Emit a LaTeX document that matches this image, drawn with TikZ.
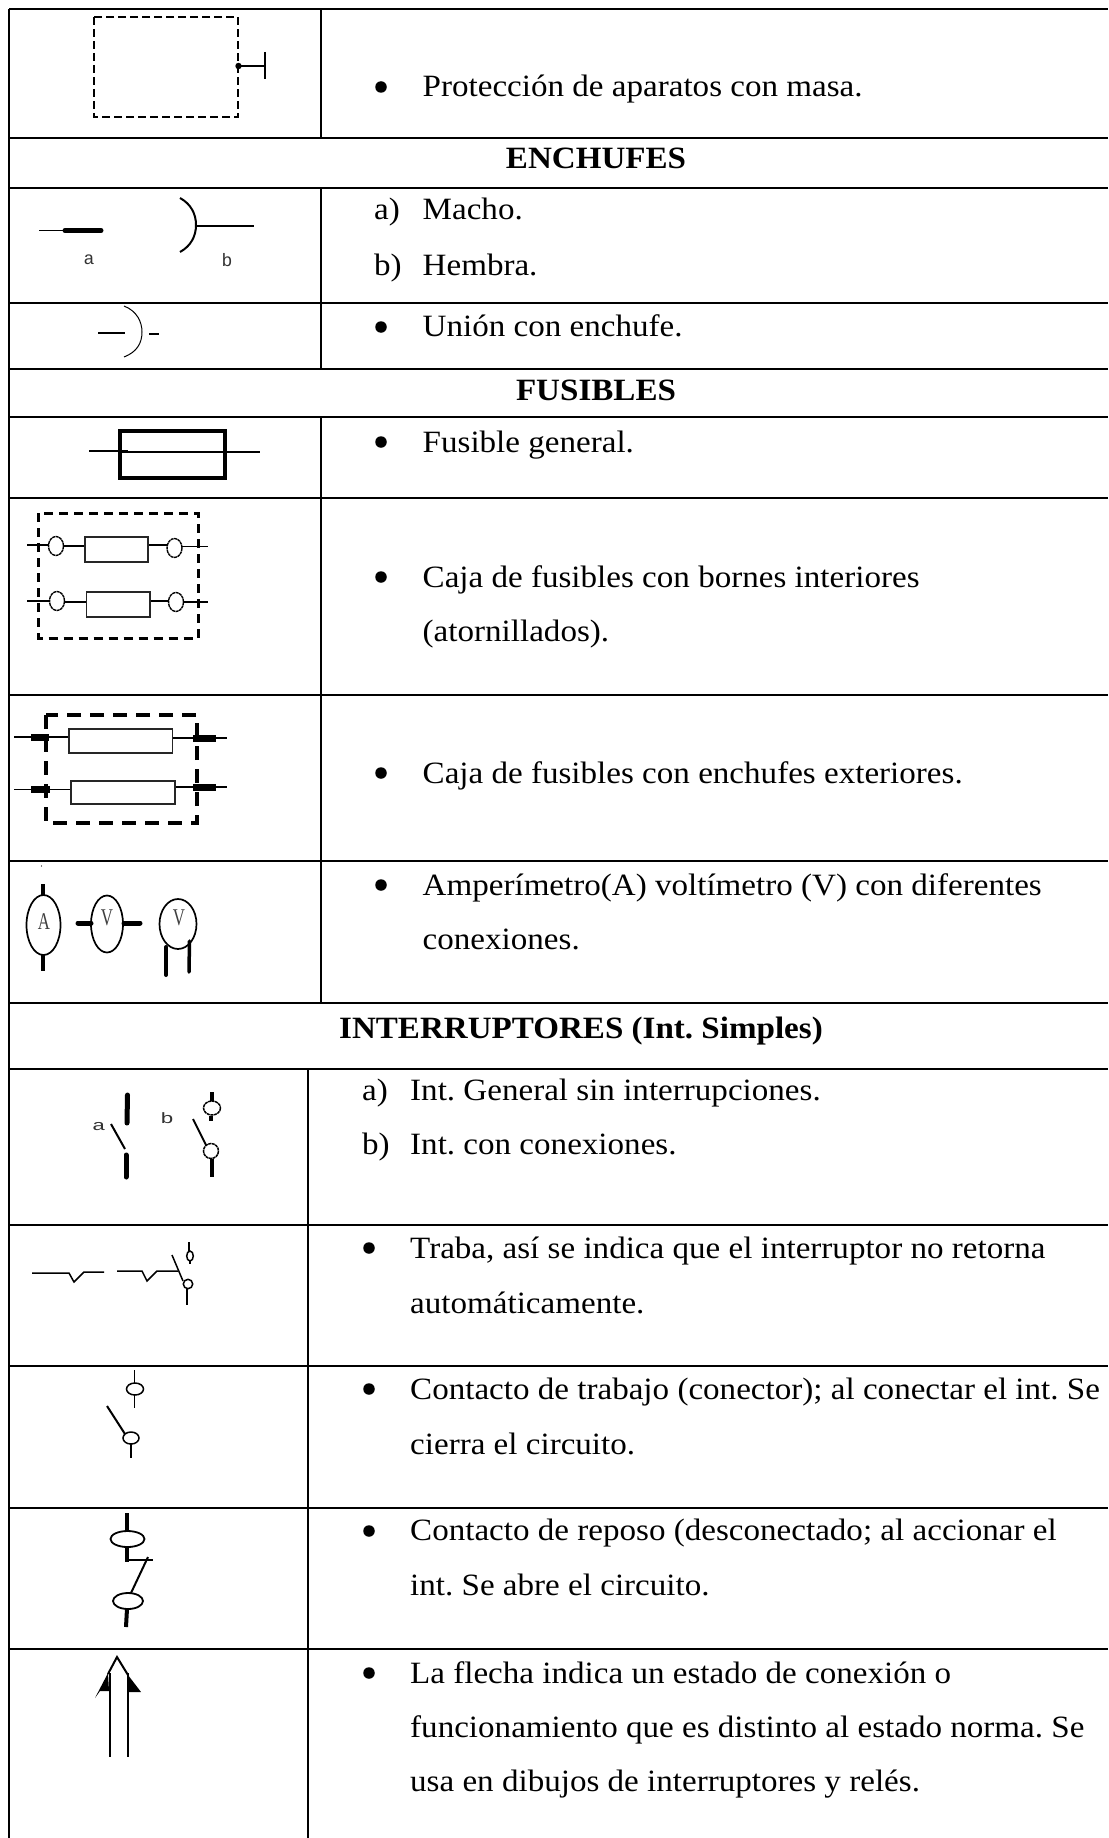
\documentclass[tikz,border=0pt]{standalone}
\usepackage{fontspec}
\setmainfont{Liberation Serif}[FakeStretch=1.067]
\newfontfamily\labfont{Liberation Mono}
\newfontfamily\widelabfont{Liberation Mono}[FakeStretch=1.5]
\newfontfamily\meterfont{Liberation Serif}[FakeStretch=0.7]
\begin{document}
\begin{tikzpicture}[x=1pt,y=-1pt,line cap=butt,
  grid/.style={line width=1.6pt,black},
  wire/.style={line width=1.5pt,black},
  thin wire/.style={line width=1.1pt,black},
  lead/.style={line width=4pt,black},
  fat/.style={line width=5pt,black,line cap=round},
  txt/.style={anchor=base west,inner sep=0pt,font=\frenchspacing\fontsize{31}{31}\selectfont},
  head/.style={anchor=base,inner sep=0pt,font=\frenchspacing\fontsize{31}{31}\selectfont\bfseries},
  bul/.style={circle,fill=black,inner sep=0pt,minimum size=11.5pt},
  lab/.style={inner sep=0pt,font=\labfont\fontsize{18}{18}\selectfont,black!80},
  widelab/.style={inner sep=0pt,font=\widelabfont\fontsize{15}{15}\selectfont,black!80},
  meter/.style={inner sep=0pt,font=\meterfont\fontsize{24}{24}\selectfont,black!75}]
\useasboundingbox (0,0) rectangle (1108,1838);
% table
\draw[grid] (9,9) -- (9,1838);
\foreach \yy in {9,138,188,303,369,417,498,695,861,1003,1069,1225,1366,1508,1649}
  \draw[grid] (9,\yy) -- (1108,\yy);
\draw[grid] (321,9) -- (321,138) (321,188) -- (321,369) (321,417) -- (321,1003);
\draw[grid] (308,1069) -- (308,1838);
% headings
\node[head] (h1) at (596,169) {ENCHUFES};
\node[head] (h2) at (596,400) {FUSIBLES};
\node[head] (h3) at (581,1038) {INTERRUPTORES (Int. Simples)};
% upper texts
\node[bul] (b1) at (381,87) {};
\node[txt] (t1) at (422.5,97) {Protección de aparatos con masa.};
\node[txt] (l1) at (374,219) {a)};
\node[txt] (t2) at (422.5,219) {Macho.};
\node[txt] (l2) at (374,275) {b)};
\node[txt] (t3) at (422.5,275) {Hembra.};
\node[bul] (b2) at (381,327) {};
\node[txt] (t4) at (422.5,336) {Unión con enchufe.};
\node[bul] (b3) at (381,442) {};
\node[txt] (t5) at (422.5,452) {Fusible general.};
\node[bul] (b4) at (381,577) {};
\node[txt] (t6) at (422.5,587) {Caja de fusibles con bornes interiores};
\node[txt] (t7) at (422.5,641) {(atornillados).};
\node[bul] (b5) at (381,773) {};
\node[txt] (t8) at (422.5,783) {Caja de fusibles con enchufes exteriores.};
\node[bul] (b6) at (381,885) {};
\node[txt] (t9) at (422.5,895) {Amperímetro(A) voltímetro (V) con diferentes};
\node[txt] (t10) at (422.5,949) {conexiones.};
% lower texts
\node[txt] (l3) at (362,1100) {a)};
\node[txt] (t11) at (410,1100) {Int. General sin interrupciones.};
\node[txt] (l4) at (362,1154) {b)};
\node[txt] (t12) at (410,1154) {Int. con conexiones.};
\node[bul] (b7) at (369,1248) {};
\node[txt] (t13) at (410,1258) {Traba, así se indica que el interruptor no retorna};
\node[txt] (t14) at (410,1313) {automáticamente.};
\node[bul] (b8) at (369,1389) {};
\node[txt] (t15) at (410,1399) {Contacto de trabajo (conector); al conectar el int. Se};
\node[txt] (t16) at (410,1454) {cierra el circuito.};
\node[bul] (b9) at (369,1531) {};
\node[txt] (t17) at (410,1540) {Contacto de reposo (desconectado; al accionar el};
\node[txt] (t18) at (410,1595) {int. Se abre el circuito.};
\node[bul] (b10) at (369,1673) {};
\node[txt] (t19) at (410,1683) {La flecha indica un estado de conexión o};
\node[txt] (t20) at (410,1737) {funcionamiento que es distinto al estado norma. Se};
\node[txt] (t21) at (410,1791) {usa en dibujos de interruptores y relés.};
% protection
\draw[line width=1.5pt,dash pattern=on 8pt off 4pt] (94,17) rectangle (238,117);
\fill (238.5,66) circle (3.2);
\draw[wire] (238,66) -- (265,66) (265,52) -- (265,79);
% plugs
\draw[wire] (39,230.5) -- (64,230.5);
\draw[fat] (65,230.5) -- (101,230.5);
\node[lab] (la) at (89,260) {a};
\node[lab] (lb) at (227,260) {b};
\draw[line width=2pt] (180,198) .. controls (191,204) and (196,214) .. (196,225) .. controls (196,236) and (191,246) .. (180,252);
\draw[wire] (196,226) -- (254,226);
\draw[thin wire] (98,333) -- (125,333) (149,334) -- (159,334);
\draw[line width=1pt] (124,306) .. controls (137,311) and (142,322) .. (142,332) .. controls (142,343) and (137,352) .. (124,357);
% fuse
\draw[line width=3.6pt] (120,431) rectangle (225,478);
\draw[line width=2pt] (89,451) -- (128,451) (120,452) -- (260,452);
% fuse box with terminals
\draw[line width=3pt,dash pattern=on 9pt off 6pt] (38.5,513) rectangle (198,638);
\draw[thin wire,line width=1.3pt] (27,545) -- (48.5,545) (63.5,546) -- (85,546) (148,545) -- (167,545) (182,546.5) -- (208,546.5);
\draw[line width=1.4pt,dash pattern=on 3pt off .6pt] (56,546) ellipse [x radius=7.5,y radius=9.5] (174.5,548) ellipse [x radius=7.5,y radius=9.5];
\draw[line width=1.5pt,black!85] (85,537) rectangle (148,562);
\draw[thin wire,line width=1.3pt] (27,601) -- (49.5,601) (65,602) -- (86.5,602) (150,601) -- (168.5,601) (183.5,602) -- (208,602);
\draw[line width=1.4pt,dash pattern=on 3pt off .6pt] (57,601) ellipse [x radius=7.5,y radius=9.5] (176,602) ellipse [x radius=7.5,y radius=9.5];
\draw[line width=1.5pt,black!85] (86.5,592) rectangle (150,617);
% fuse box with plugs
\draw[line width=4pt,dash pattern=on 14pt off 9pt] (46,715) rectangle (197,823);
\draw[wire,line width=1.8pt] (14,737) -- (69,737) (172.5,738) -- (227,738);
\draw[line width=7pt] (31,737) -- (49,737) (193,738) -- (216,738);
\draw[line width=1.8pt,black!85] (69,729) rectangle (172.5,753);
\draw[wire,line width=1.8pt] (14,789.5) -- (71,789.5) (175,787) -- (227,787);
\draw[line width=7pt] (31,789.5) -- (50,789.5) (193,787) -- (216,787);
\draw[line width=1.8pt,black!85] (71,781) rectangle (175,804);
% meters
\fill (41.5,866) circle (.6);
\draw[line width=1.7pt] (43.5,925) ellipse [x radius=17,y radius=30];
\draw[lead] (43,884) -- (43,895) (43,955) -- (43,971);
\node[meter] (ma) at (44,922) {A};
\draw[line width=1.7pt] (107,924) ellipse [x radius=16,y radius=28.5];
\draw[fat] (78,923) -- (91,923) (124,923) -- (140,923);
\node[meter] (mv) at (107,918) {V};
\draw[line width=1.7pt] (178,924) ellipse [x radius=18.5,y radius=25];
\node[meter] (mw) at (179,918) {V};
\draw[line width=4pt,line cap=round] (166,947) -- (166,975);
\draw[line width=3.5pt,line cap=round] (189.5,941) -- (189,972);
% switches a, b
\node[widelab] (sa) at (99,1127) {a};
\node[widelab] (sb) at (167,1118) {b};
\draw[fat] (127.5,1095) -- (127,1123);
\draw[line width=2pt] (111,1124) -- (125,1149);
\draw[fat] (126,1155) -- (126,1177);
\draw[lead] (212,1092) -- (212,1101) (211,1116) -- (211,1121);
\draw[line width=1.5pt,dash pattern=on 3pt off .6pt] (212,1108) ellipse [x radius=8.5,y radius=7];
\draw[line width=2pt] (193,1119) -- (206,1145);
\draw[line width=1.5pt,dash pattern=on 3pt off .6pt] (211,1151) ellipse [x radius=7.5,y radius=7.5];
\draw[lead,line width=3.5pt] (212,1159) -- (212,1177);
% latch
\draw[wire] (32,1273) -- (69,1273) -- (74,1282) -- (84,1272) -- (104,1272);
\draw[wire] (117,1271) -- (142,1271) -- (147,1281) -- (157,1271) -- (178,1271);
\draw[wire] (172,1255) -- (183,1281);
\draw[wire] (188,1284) circle (4.7);
\draw[wire] (187,1289) -- (187,1305);
\draw[wire] (189,1242) -- (189,1251) (190,1261) -- (190,1264);
\draw[wire] (190,1256) ellipse [x radius=3.3,y radius=5];
% working contact
\draw[wire] (134.5,1370) -- (134.5,1383) (134.5,1395) -- (134.5,1408);
\draw[wire] (135,1389) ellipse [x radius=8.5,y radius=6];
\draw[line width=2pt] (107,1406) -- (125,1434);
\draw[wire] (131,1438) ellipse [x radius=8,y radius=6];
\draw[line width=2pt] (131,1444) -- (131,1458);
% rest contact
\draw[lead] (127,1513) -- (127,1531);
\draw[line width=1.8pt] (127.5,1539) ellipse [x radius=17,y radius=8];
\draw[lead] (127,1547) -- (127,1562);
\draw[line width=2.5pt] (127,1560) -- (153,1560);
\draw[line width=2pt] (148,1557) -- (131,1593);
\draw[line width=1.8pt] (128,1601) ellipse [x radius=15,y radius=8];
\draw[lead] (127,1609) -- (126,1627);
% arrow
\draw[line width=2.4pt] (110,1673) -- (110,1757) (128,1673) -- (128,1757);
\draw[line width=2pt] (108,1674) -- (117,1657) -- (128,1675);
\fill (108,1673) -- (95,1698) -- (100,1691) -- (109,1691) -- cycle;
\fill (128,1675) -- (141,1692) -- (128,1692) -- cycle;
\end{tikzpicture}
\end{document}
